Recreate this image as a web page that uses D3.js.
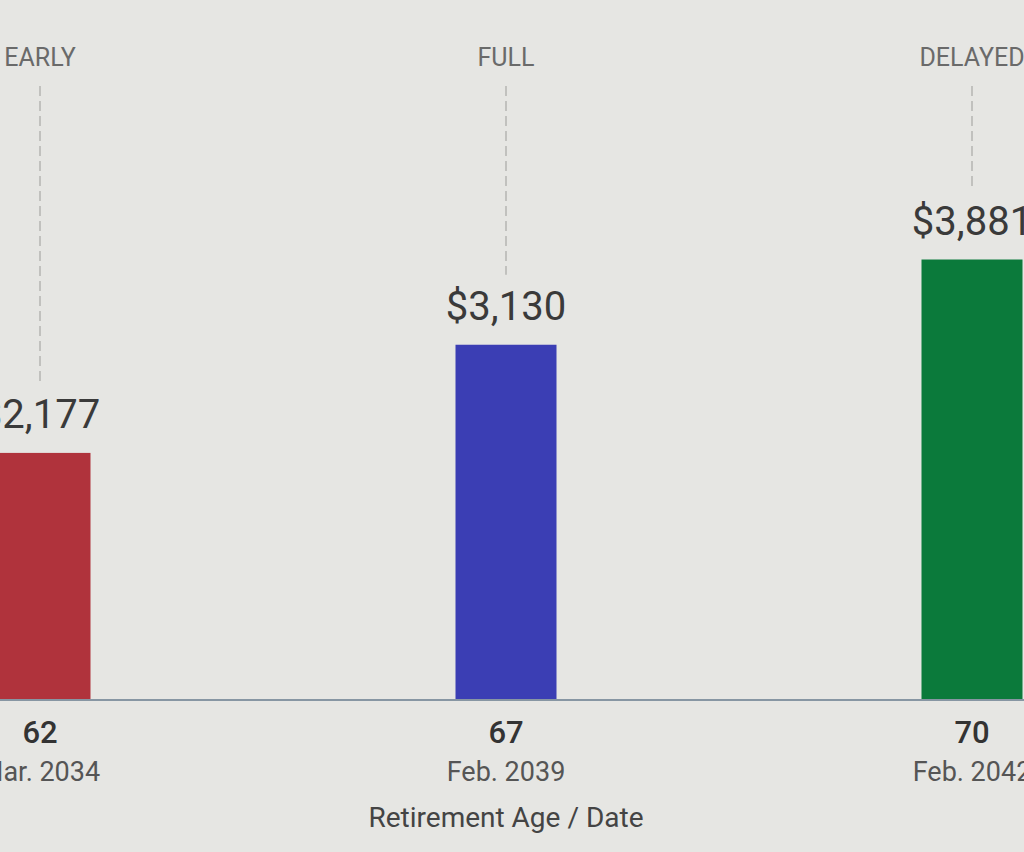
<!DOCTYPE html>
<html><head><meta charset="utf-8">
<script src="https://cdn.jsdelivr.net/npm/d3@7"></script>
<style>
html,body{margin:0;padding:0;background:#e6e6e3;}
svg{display:block;font-family:Roboto,"Noto Sans",sans-serif;}
</style></head>
<body>
<svg id="chart" width="1024" height="852"></svg>
<script>
const categories = ["EARLY", "FULL", "DELAYED"];
const ages = ["62", "67", "70"];
const dates = ["Mar. 2034", "Feb. 2039", "Feb. 2042"];
const benefits = [2177, 3130, 3881];
const barColors = ["#b0333c", "#3b3eb4", "#0b7a3b"];
const axisTitle = "Retirement Age / Date";

const svg = d3.select("#chart");
const W = 1024, H = 852;
const baseY = 700;

svg.append("rect").attr("width", W).attr("height", H).attr("fill", "#e6e6e3");

const x = d3.scalePoint().domain(categories).range([40, 972]);
const y = d3.scaleLinear().domain([0, 4000]).range([baseY, baseY - 454]);
const barW = 101;
const fmt = v => "$" + d3.format(",")(v);

const data = categories.map((c, i) => ({cat: c, age: ages[i], date: dates[i], v: benefits[i], color: barColors[i]}));

// dashed guide lines from category label down to value label
svg.selectAll("line.guide").data(data).join("line")
  .attr("class", "guide")
  .attr("x1", d => x(d.cat)).attr("x2", d => x(d.cat))
  .attr("y1", 86).attr("y2", d => y(d.v) - 70)
  .attr("stroke", "#b5b5b2").attr("stroke-width", 1.5)
  .attr("stroke-dasharray", "10,5");

// category labels
svg.selectAll("text.cat").data(data).join("text")
  .attr("class", "cat")
  .attr("x", d => x(d.cat)).attr("y", 66)
  .attr("text-anchor", "middle")
  .attr("font-size", 25).attr("fill", "#6a6a6a")
  .text(d => d.cat);

// bars
svg.selectAll("rect.bar").data(data).join("rect")
  .attr("class", "bar")
  .attr("x", d => x(d.cat) - barW / 2)
  .attr("width", barW)
  .attr("y", d => y(d.v))
  .attr("height", d => y(0) - y(d.v))
  .attr("fill", d => d.color);

// value labels
svg.selectAll("text.val").data(data).join("text")
  .attr("class", "val")
  .attr("x", d => x(d.cat)).attr("y", d => y(d.v) - 25)
  .attr("text-anchor", "middle")
  .attr("font-size", 40).attr("fill", "#3a3a3a")
  .text(d => fmt(d.v));

// baseline axis
const xAxis = d3.axisBottom(x).tickSize(0).tickFormat(() => "");
const ax = svg.append("g").attr("transform", `translate(0,${baseY})`).call(xAxis);
ax.select(".domain").attr("d", `M0,0H${W}`).attr("stroke", "#8796a3").attr("stroke-width", 2);

// age labels
svg.selectAll("text.age").data(data).join("text")
  .attr("class", "age")
  .attr("x", d => x(d.cat)).attr("y", baseY + 43)
  .attr("text-anchor", "middle")
  .attr("font-size", 31).attr("font-weight", 500).attr("fill", "#333")
  .text(d => d.age);

// date labels
svg.selectAll("text.date").data(data).join("text")
  .attr("class", "date")
  .attr("x", d => x(d.cat)).attr("y", baseY + 81)
  .attr("text-anchor", "middle")
  .attr("font-size", 27).attr("fill", "#555")
  .text(d => d.date);

// axis title
svg.append("text")
  .attr("x", x("FULL")).attr("y", baseY + 127)
  .attr("text-anchor", "middle")
  .attr("font-size", 28).attr("fill", "#444")
  .text(axisTitle);
</script>
</body></html>
